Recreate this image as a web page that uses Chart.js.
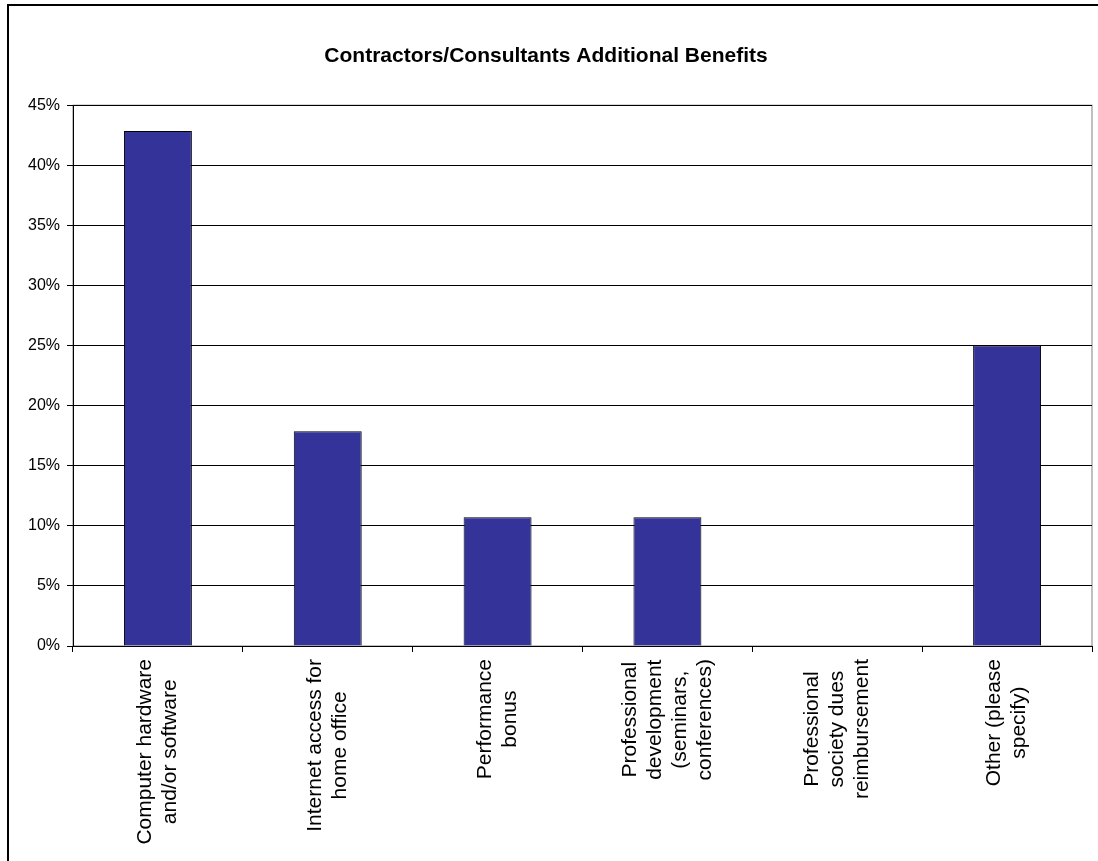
<!DOCTYPE html>
<html lang="en">
  <head>
    <meta charset="utf-8" />
    <title>Contractors/Consultants Additional Benefits</title>
    <script src="https://cdn.jsdelivr.net/npm/chart.js"></script>
    <style>
      html, body { margin: 0; padding: 0; overflow: hidden; background: #fff; }
      #frame {
        position: absolute; left: 7px; top: 4px;
        width: 1200px; height: 1000px;
        border: 2px solid #000;
      }
      #myChart { position: absolute; left: 0; top: 0; }
    </style>
  </head>
  <body>
    <div id="frame"></div>
    <canvas id="myChart" width="1098" height="861"></canvas>
    <script>
      const chartTitle = 'Contractors/Consultants Additional Benefits';
      const categories = [
        ['Computer hardware', 'and/or software'],
        ['Internet access for', 'home office'],
        ['Performance', 'bonus'],
        ['Professional', 'development', '(seminars,', 'conferences)'],
        ['Professional', 'society dues', 'reimbursement'],
        ['Other (please', 'specify)'],
      ];
      const percents = [42.86, 17.86, 10.71, 10.71, 0, 25];
      const yTicks = [0, 5, 10, 15, 20, 25, 30, 35, 40, 45];

      const fontFamily = '"Liberation Sans", Arial, sans-serif';

      // grey frame round the plot, axes are drawn over it in black
      const plotBorder = {
        id: 'plotBorder',
        beforeDraw(chart) {
          const { ctx, chartArea: a } = chart;
          ctx.save();
          ctx.strokeStyle = '#808080';
          ctx.lineWidth = 1;
          ctx.strokeRect(a.left, a.top, a.right - a.left, a.bottom - a.top);
          ctx.restore();
        },
      };

      // rotated category labels, lines centred on each other
      const catLabels = {
        id: 'catLabels',
        afterDraw(chart) {
          const { ctx } = chart;
          const x = chart.scales.x;
          ctx.save();
          ctx.font = '21px ' + fontFamily;
          ctx.fillStyle = '#000';
          ctx.textAlign = 'center';
          ctx.textBaseline = 'middle';
          categories.forEach((lines, i) => {
            const cx = x.getPixelForValue(i);
            const w = Math.max(...lines.map((l) => ctx.measureText(l).width));
            ctx.save();
            ctx.translate(cx, x.top + 13 + w / 2);
            ctx.rotate(-Math.PI / 2);
            lines.forEach((l, j) => {
              ctx.fillText(l, 0, (j - (lines.length - 1) / 2) * 25);
            });
            ctx.restore();
          });
          ctx.restore();
        },
      };

      const data = {
        labels: categories,
        datasets: [
          {
            data: percents,
            backgroundColor: '#333399',
            borderColor: '#000',
            borderWidth: 1,
            barPercentage: 0.4,
            categoryPercentage: 1,
          },
        ],
      };

      const config = {
        type: 'bar',
        data: data,
        options: {
          responsive: false,
          animation: false,
          layout: { padding: { left: 0, right: 6, top: 0, bottom: 0 } },
          plugins: {
            legend: { display: false },
            tooltip: { enabled: false },
            title: {
              display: true,
              text: chartTitle,
              color: '#000',
              font: { family: fontFamily, size: 21, weight: 'bold', lineHeight: 1.2 },
              padding: { top: 44, bottom: 36 },
            },
          },
          scales: {
            x: {
              grid: {
                display: true,
                offset: true,
                drawOnChartArea: false,
                drawTicks: true,
                tickLength: 6,
                color: '#000',
              },
              border: { display: true, color: '#000', width: 1 },
              ticks: { display: false },
              afterFit(scale) {
                scale.height = 215;
              },
            },
            y: {
              min: 0,
              max: 45,
              afterBuildTicks(scale) {
                scale.ticks = yTicks.map((v) => ({ value: v }));
              },
              grid: {
                color: '#000',
                lineWidth: 1,
                tickLength: 6,
              },
              border: { display: true, color: '#000', width: 1 },
              ticks: {
                color: '#000',
                padding: 7,
                font: { family: fontFamily, size: 16 },
                callback: (v) => v + '%',
              },
              afterFit(scale) {
                scale.width = 73;
              },
            },
          },
        },
        plugins: [plotBorder, catLabels],
      };

      var myChart = new Chart(document.getElementById('myChart'), config);
    </script>
  </body>
</html>
